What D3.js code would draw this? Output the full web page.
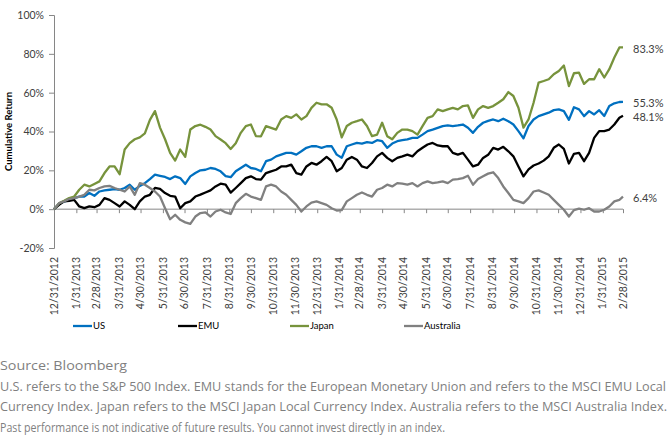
<!DOCTYPE html>
<html><head><meta charset="utf-8">
<script src="https://cdn.jsdelivr.net/npm/d3@7"></script>
<style>
html,body{margin:0;padding:0;background:#fff;}
svg{display:block;font-family:Lato,"Open Sans",sans-serif;}
</style></head>
<body>
<script>
// ---- data ----
const seriesNames = ["US", "EMU", "Japan", "Australia"];
const tickLabels = ["12/31/2012","1/31/2013","2/28/2013","3/31/2013","4/30/2013","5/31/2013","6/30/2013","7/31/2013","8/31/2013","9/30/2013","10/31/2013","11/30/2013","12/31/2013","1/31/2014","2/28/2014","3/31/2014","4/30/2014","5/31/2014","6/30/2014","7/31/2014","8/31/2014","9/30/2014","10/31/2014","11/30/2014","12/31/2014","1/31/2015","2/28/2015"];
const yTicks = [-20, 0, 20, 40, 60, 80, 100];
// weekly observations from 12/31/2012, last one on 2/28/2015
const dates = d3.range(113).map(i => d3.timeDay.offset(new Date(2012, 11, 31), 7 * i)).concat([new Date(2015, 1, 28)]);
const us = [0,2.8,4,4.5,5.7,6.5,6.5,8.3,6.9,9.1,
 9.7,10,10.3,10,10.9,12.6,10,12,13.4,15.5,
 17.8,17.2,16.6,15.5,16.9,16,13,16.9,18.6,20,
 20.3,21.2,20.7,19.5,17,16.5,19.5,21.2,22.9,21.2,
 20.7,19.5,24.7,25.5,27.2,28.1,29,29,28.1,
 29.8,31.6,32.4,32.4,31.6,32.4,32.4,28.1,26.5,32.4,
 33.3,34.1,33.8,34.5,34.1,35.5,35,31.6,33.8,35,
 35.5,35.9,36.7,36.7,38.4,40.2,41,41.9,42.8,43.1,
 42.8,43.1,43.6,41.9,39.3,42.4,44.5,45.5,46.2,45.3,
 46.6,45.3,43.6,40.2,36.5,42.8,46.2,47.9,48.8,49.7,
 51,51.4,50.5,46,52.5,51.4,47.9,50.5,48.8,51,
 48,53.1,54.5,55.2,55.3];
const emu = [0,2.2,4,4.3,4.8,1.4,0.5,1.4,1,2.2,
 5.7,4.8,3.1,1.4,4,2.2,0,4,6.5,7.4,
 11,10.5,8.3,6.9,6.5,0.5,3.1,4,6.5,7.5,
 8.6,9.7,11.7,13.1,12.6,8.5,10.9,13.4,16,16.9,
 15.5,15.2,18.6,19.5,20.3,22,22,22.9,18.6,
 17.8,22,23.8,22.9,24.7,26.9,24.7,19.5,21.2,25.5,
 26.9,25.5,22,21.2,23.8,27.2,29,26.4,24.7,26.4,
 27.2,28.1,27.2,29.8,31.6,33.3,34.1,32.8,32.4,32.4,
 29,28.1,29,25.5,22,22.9,26.4,28,31.6,30.7,
 32.1,29.8,27.2,22,16.9,20.5,22.5,23.5,25,27.2,
 31.6,33.3,31,23.5,28.5,29,24.7,29,36.7,40.2,
 40.2,41,43.6,47.1,48.1];
const japan = [0,3,4.3,5.7,6.5,10,12.6,11.7,13,14.3,
 18.6,22,22,18,30.7,34,36,37,39,46,
 50.5,42,36,29,25,30.7,27,41,42.8,43.5,
 42.4,41,37.6,35.9,34,31,34,39.3,42.8,43.6,
 37.6,37.5,42.8,41.9,41,46.2,47.9,47,48.8,
 46.2,47.9,52.2,54.8,54,54,52.2,46.2,37,42.8,
 44.5,45.3,46.2,42.8,37.6,38.4,44.5,37.6,36,39.3,
 41,41,40.2,38.4,42.8,47,47.9,51.4,50.5,51.4,
 52.2,51.4,53.1,53.4,47,51.4,53.1,52.2,53.1,54.8,
 56.6,60.3,58.3,52.2,42,46.2,54.8,65.2,66,66.9,
 69.5,71.2,74,63.4,70,70.3,64.5,66.9,66.9,72.1,
 67.8,72.1,78.1,83.3,83.3];
const australia = [0,3.1,4,5.2,5.7,6.5,7.4,10,9.7,10.9,
 11.7,12,10.9,10,9.1,11.7,7.4,13.4,12.6,10.9,
 9.1,6.5,0.5,-5.2,-2.9,-5.5,-6.8,-7.6,-3.8,-2,
 -1.7,-3.8,-1.2,-0.3,-1.7,-2.5,3.1,5.7,7.9,6.5,
 5.7,4.8,11.7,12.6,11.7,9.1,7.4,4.8,2.2,
 -1.2,1.4,3.4,4,3.1,2.2,0.5,-0.7,-0.5,4,
 5.7,7.4,8.6,7.4,6.5,10,10.9,12.6,11.7,13.4,
 13.1,12.6,13.4,11.7,13.4,14.3,13.4,13.8,14.3,13.4,
 15.2,15.5,16,17.2,12.6,15.5,16.9,18.3,19,16,
 11.7,8.3,4.8,4,3.1,5.7,9.1,9.7,8.6,7.4,
 4.8,2.2,-0.3,-3.8,-0.5,0.3,-0.3,0.5,-1.2,-1.2,
 -0.3,1.4,4,4.8,6.4];
const endLabels = ["55.3%", "48.1%", "83.3%", "6.4%"];
const footnotes = [
 "Source: Bloomberg",
 "U.S. refers to the S&P 500 Index. EMU stands for the European Monetary Union  and refers to the MSCI EMU Local",
 "Currency Index. Japan refers to the MSCI Japan Local Currency Index. Australia refers to the MSCI Australia Index.",
 "Past performance is not indicative of future results. You cannot invest directly in an index."
];

// ---- styles ----
const colors = ["#0070C0", "#000000", "#77933C", "#808080"];
const values = [us, emu, japan, australia];
const W = 670, H = 444;
const parse = d3.timeParse("%m/%d/%Y");

const svg = d3.select("body").append("svg").attr("width", W).attr("height", H);

const x = d3.scaleTime().domain([new Date(2012, 11, 31), new Date(2015, 1, 28)]).range([54, 623]);
const y = d3.scaleLinear().domain([-20, 100]).range([248, 15]);
const axisColor = "#868686";

// y axis
const yAxis = svg.append("g").attr("transform", "translate(54,0)")
  .call(d3.axisLeft(y).tickValues(yTicks).tickSize(5).tickPadding(5).tickFormat(d => d + "%"));
yAxis.select(".domain").attr("stroke", axisColor);
yAxis.selectAll(".tick line").attr("stroke", axisColor);
yAxis.selectAll("text").attr("font-size", 10.5).attr("fill", "#404040").attr("font-family", "Lato");

// x axis at zero line (ticks only)
const tickDates = tickLabels.map(parse);
const xAxis = svg.append("g").attr("transform", `translate(0,${y(0)})`)
  .call(d3.axisBottom(x).tickValues(tickDates).tickSize(4).tickFormat(""));
xAxis.select(".domain").attr("stroke", axisColor).attr("d", `M${x.range()[0]},0H${x.range()[1]}`);
xAxis.selectAll(".tick line").attr("stroke", axisColor);

// x labels at bottom (rotated)
svg.append("g").selectAll("text").data(tickLabels).join("text")
  .attr("transform", d => `translate(${x(parse(d))},257) rotate(-90)`)
  .attr("text-anchor", "end").attr("dy", "0.35em")
  .attr("font-size", 10.5).attr("fill", "#404040")
  .text(d => d);

// y title
svg.append("text").attr("transform", `translate(9,${(y(100) + y(-20)) / 2}) rotate(-90)`)
  .attr("text-anchor", "middle").attr("dy", "0.35em")
  .attr("font-size", 9.5).attr("font-weight", "bold").attr("fill", "#000")
  .text("Cumulative Return");

// lines
const line = d3.line().x((d, i) => x(dates[i])).y(d => y(d));
svg.append("g").selectAll("path").data(values).join("path")
  .attr("d", d => line(d)).attr("fill", "none")
  .attr("stroke", (d, i) => colors[i]).attr("stroke-width", 2.3)
  .attr("stroke-linejoin", "round");

// end labels
svg.append("g").selectAll("text").data(values).join("text")
  .attr("x", x(dates[dates.length - 1]) + 10)
  .attr("y", d => y(d[d.length - 1]) + 1.5)
  .attr("dy", "0.35em").attr("font-size", 11).attr("fill", "#404040")
  .text((d, i) => endLabels[i]);

// legend
const legendX = [73, 178, 290, 404];
const lg = svg.append("g").selectAll("g").data(seriesNames).join("g")
  .attr("transform", (d, i) => `translate(${legendX[i]},326)`);
lg.append("line").attr("x1", 0).attr("x2", 19).attr("stroke", (d, i) => colors[i]).attr("stroke-width", 2.3);
lg.append("text").attr("x", 20).attr("dy", "0.35em").attr("font-size", 9.5).attr("fill", "#000").text(d => d);

// footnotes
const fnY = [370, 391, 411, 432];
const fnW = [127, 666, 667, 445];
svg.append("g").selectAll("text").data(footnotes).join("text")
  .attr("x", 0).attr("y", (d, i) => fnY[i])
  .attr("font-size", 12.5).attr("fill", "#7f7f7f").attr("font-family", "'Open Sans', sans-serif")
  .attr("textLength", (d, i) => fnW[i]).attr("lengthAdjust", "spacingAndGlyphs")
  .text(d => d);
</script>
</body></html>
